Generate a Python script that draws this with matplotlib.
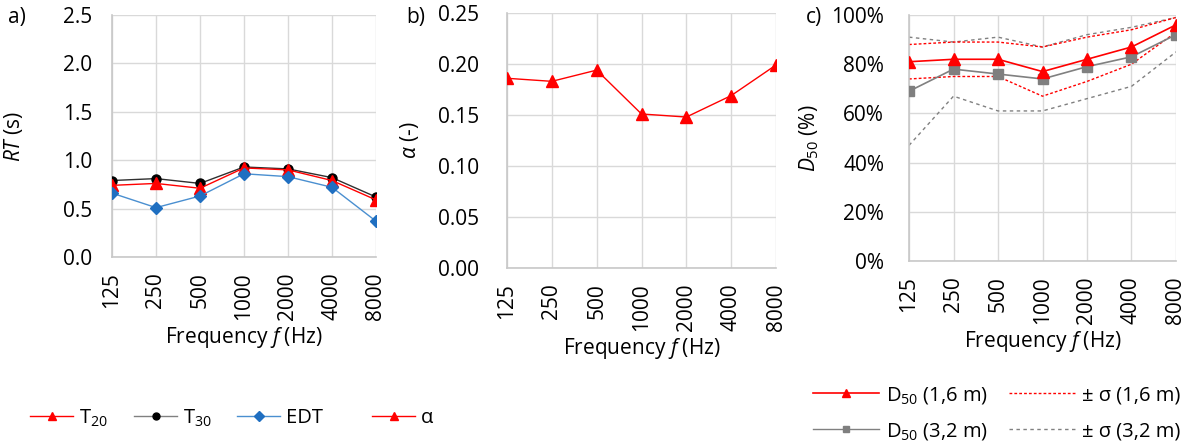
import matplotlib
matplotlib.use("Agg")
import matplotlib.pyplot as plt
from matplotlib.lines import Line2D
from matplotlib.ticker import FixedLocator, FuncFormatter

plt.rcParams['font.family'] = ['Open Sans', 'DejaVu Sans']
plt.rcParams['mathtext.fontset'] = 'custom'
plt.rcParams['mathtext.rm'] = 'Open Sans'
plt.rcParams['mathtext.it'] = 'Open Sans:italic'

# ---------------- data ----------------
freqs = ['125', '250', '500', '1000', '2000', '4000', '8000']
t20 = [0.74, 0.76, 0.71, 0.92, 0.90, 0.79, 0.59]
t30 = [0.79, 0.81, 0.76, 0.93, 0.91, 0.82, 0.62]
edt = [0.66, 0.51, 0.63, 0.86, 0.83, 0.72, 0.37]
alpha = [0.186, 0.183, 0.194, 0.151, 0.148, 0.169, 0.199]
d50_16 = [81, 82, 82, 77, 82, 87, 96]
d50_16_up = [88, 89, 89, 87, 91, 94, 99]
d50_16_lo = [74, 75, 75, 67, 73, 80, 93]
d50_32 = [69, 78, 76, 74, 79, 83, 92]
d50_32_up = [91, 89, 91, 87, 92, 95, 99]
d50_32_lo = [47, 67, 61, 61, 66, 71, 85]

W, H = 1201, 446
fig = plt.figure(figsize=(W / 100, H / 100), dpi=100)

def add_ax(l, r, t, b):
    return fig.add_axes([l / W, 1 - b / H, (r - l) / W, (b - t) / H])

GRID = '#d9d9d9'
RED = '#ff0000'
BLUE_L = '#4a8fd0'
BLUE_M = '#1f6fc1'
GRAY = '#808080'
FS = 15
LFS = 14.5

def style(ax, ylim, yticks, yfmt, ypad):
    x = range(len(freqs))
    ax.set_xlim(0, len(freqs) - 1)
    ax.set_ylim(*ylim)
    ax.xaxis.set_major_locator(FixedLocator(list(x)))
    ax.set_xticklabels(freqs, rotation=90, fontsize=FS)
    ax.yaxis.set_major_locator(FixedLocator(yticks))
    ax.yaxis.set_major_formatter(FuncFormatter(yfmt))
    ax.tick_params(axis='both', length=0, labelsize=FS)
    ax.tick_params(axis='y', pad=ypad)
    ax.tick_params(axis='x', pad=11)
    ax.grid(True, color=GRID, linewidth=1.0)
    ax.set_axisbelow(True)
    for s in ['top', 'right']:
        ax.spines[s].set_visible(False)
    for s in ['left', 'bottom']:
        ax.spines[s].set_color('#c8c8c8')
        ax.spines[s].set_linewidth(1.2)
    ax.set_xlabel(r'Frequency $\mathit{f}$ (Hz)', fontsize=FS, labelpad=4)

# ---- panel a ----
axa = add_ax(112, 376, 15, 257)
xs = list(range(len(freqs)))
axa.plot(xs, t30, color='#303030', lw=1.0, marker='o', ms=6.5, mfc='black', mec='black', zorder=3)
axa.plot(xs, t20, color=RED, lw=1.0, marker='^', ms=8, mfc=RED, mec=RED, zorder=4)
axa.plot(xs, edt, color=BLUE_L, lw=1.0, marker='D', ms=6, mfc=BLUE_M, mec=BLUE_M, zorder=5)
style(axa, (0, 2.5), [0, 0.5, 1.0, 1.5, 2.0, 2.5], lambda v, p: f'{v:.1f}', 14)
axa.set_ylabel(r'$\mathit{RT}$ (s)', fontsize=FS)
axa.yaxis.set_label_coords(-0.33, 0.5)

# ---- panel b ----
axb = add_ax(507, 776, 13, 268)
axb.plot(xs, alpha, color=RED, lw=1.0, marker='^', ms=9, mfc=RED, mec=RED, zorder=4)
style(axb, (0, 0.25), [0, 0.05, 0.10, 0.15, 0.20, 0.25], lambda v, p: f'{v:.2f}', 20)
axb.set_ylabel(r'$\mathit{α}$ (-)', fontsize=FS)
axb.yaxis.set_label_coords(-0.32, 0.5)

# ---- panel c ----
axc = add_ax(909, 1176, 15, 261)
axc.plot(xs, d50_32_up, color=GRAY, lw=1.0, ls=(0, (2.5, 2.5)), zorder=2)
axc.plot(xs, d50_32_lo, color=GRAY, lw=1.0, ls=(0, (2.5, 2.5)), zorder=2)
axc.plot(xs, d50_16_up, color=RED, lw=1.0, ls=(0, (2, 1.5)), zorder=2)
axc.plot(xs, d50_16_lo, color=RED, lw=1.0, ls=(0, (2, 1.5)), zorder=2)
axc.plot(xs, d50_32, color=GRAY, lw=1.2, marker='s', ms=7, mfc='#7f7f7f', mec='#7f7f7f', zorder=3)
axc.plot(xs, d50_16, color=RED, lw=1.2, marker='^', ms=9, mfc=RED, mec=RED, zorder=4)
style(axc, (0, 100), [0, 20, 40, 60, 80, 100], lambda v, p: f'{v:.0f}%', 18)
axc.set_ylabel(r'$\mathit{D}_{\mathit{50}}$ (%)', fontsize=FS)
axc.yaxis.set_label_coords(-0.33, 0.5)

# panel letters
fig.text(8 / W, 1 - 18 / H, 'a)', fontsize=FS, va='center', ha='left')
fig.text(406 / W, 1 - 18 / H, 'b)', fontsize=FS, va='center', ha='left')
fig.text(806 / W, 1 - 18 / H, 'c)', fontsize=FS, va='center', ha='left')

# legends
def leg(handle, label, x, y, hl):
    return fig.legend([handle], [label], loc='center left',
                      bbox_to_anchor=(x / W, 1 - y / H), frameon=False,
                      fontsize=LFS, handlelength=hl, handletextpad=0.3,
                      borderpad=0, borderaxespad=0)

h_t20 = Line2D([], [], color=RED, lw=1.0, marker='^', ms=6, mfc=RED, mec=RED)
h_t30 = Line2D([], [], color=GRAY, lw=1.0, marker='o', ms=5, mfc='black', mec='black')
h_edt = Line2D([], [], color=BLUE_L, lw=1.0, marker='D', ms=5, mfc=BLUE_M, mec=BLUE_M)
h_a = Line2D([], [], color=RED, lw=1.0, marker='^', ms=6, mfc=RED, mec=RED)
leg(h_t20, r'T$_{20}$', 30, 418, 2.15)
leg(h_t30, r'T$_{30}$', 134, 418, 2.15)
leg(h_edt, 'EDT', 237, 418, 2.15)
leg(h_a, 'α', 372, 418, 2.15)

h_d16 = Line2D([], [], color=RED, lw=1.2, marker='^', ms=6, mfc=RED, mec=RED)
h_d32 = Line2D([], [], color=GRAY, lw=1.0, marker='s', ms=5, mfc='#7f7f7f', mec='#7f7f7f')
h_s16 = Line2D([], [], color=RED, lw=1.0, ls=(0, (2, 1.5)))
h_s32 = Line2D([], [], color=GRAY, lw=1.0, ls=(0, (2.5, 2.5)))
leg(h_d16, r'D$_{50}$ (1,6 m)', 813, 395, 3.3)
leg(h_s16, '± σ (1,6 m)', 1009, 395, 3.3)
leg(h_d32, r'D$_{50}$ (3,2 m)', 813, 431, 3.3)
leg(h_s32, '± σ (3,2 m)', 1009, 431, 3.3)

fig.savefig('out.png', dpi=100)
